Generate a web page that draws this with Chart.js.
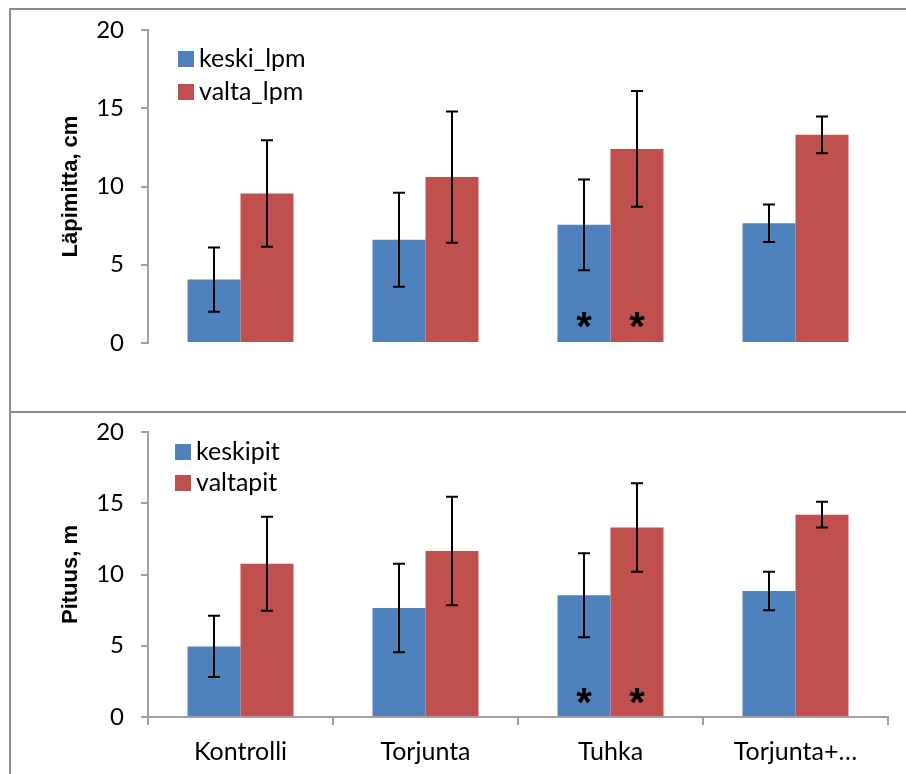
<!DOCTYPE html>
<html>
<head>
<meta charset="utf-8">
<script src="https://cdn.jsdelivr.net/npm/chart.js@4.4.0/dist/chart.umd.min.js"></script>
<style>
  body { margin: 0; background: #fff; overflow: hidden; }
  #wrap { position: relative; width: 906px; height: 774px; }
  canvas { position: absolute; left: 0; }
  .frame { position: absolute; border: 2px solid #8c8c8c; box-sizing: border-box; }
</style>
</head>
<body>
<div id="wrap">
  <canvas id="c1" width="906" height="412" style="top:0"></canvas>
  <canvas id="c2" width="906" height="362" style="top:412px"></canvas>
  <div class="frame" style="left:9px;top:8px;width:910px;height:405px"></div>
  <div class="frame" style="left:9px;top:411px;width:910px;height:400px"></div>
</div>
<script>
// data
const categories = ['Kontrolli', 'Torjunta', 'Tuhka', 'Torjunta+…'];
const keskiLpm    = [4.05, 6.6, 7.55, 7.65];
const keskiLpmErr = [2.05, 3.0, 2.9, 1.2];
const valtaLpm    = [9.55, 10.6, 12.4, 13.3];
const valtaLpmErr = [3.4, 4.2, 3.7, 1.17];
const keskipit    = [4.95, 7.65, 8.55, 8.85];
const keskipitErr = [2.15, 3.1, 2.95, 1.35];
const valtapit    = [10.75, 11.65, 13.3, 14.2];
const valtapitErr = [3.3, 3.8, 3.1, 0.9];
const yTicks = [0, 5, 10, 15, 20];
const starCategory = 'Tuhka';   // merkitsevä ero
const starLevel = 1.45;

const BLUE = '#4f81bd';
const RED = '#c0504d';
const AXIS = '#a0a0a0';
const LABEL_FONT = 'Lato';

// error bars from dataset.err
const errorBars = {
  id: 'errorBars',
  afterDatasetsDraw(chart) {
    const ctx = chart.ctx;
    const ys = chart.scales.y;
    ctx.save();
    ctx.strokeStyle = '#000';
    ctx.lineWidth = 2;
    chart.data.datasets.forEach((ds, i) => {
      const meta = chart.getDatasetMeta(i);
      meta.data.forEach((bar, j) => {
        const hi = ys.getPixelForValue(ds.data[j] + ds.err[j]);
        const lo = ys.getPixelForValue(ds.data[j] - ds.err[j]);
        const x = Math.round(bar.x);
        ctx.beginPath();
        ctx.moveTo(x, hi); ctx.lineTo(x, lo);
        ctx.moveTo(x - 6, hi); ctx.lineTo(x + 6, hi);
        ctx.moveTo(x - 6, lo); ctx.lineTo(x + 6, lo);
        ctx.stroke();
      });
    });
    ctx.restore();
  }
};

// asterisks on the Tuhka bars
const stars = {
  id: 'stars',
  afterDatasetsDraw(chart) {
    const ctx = chart.ctx;
    const idx = chart.data.labels.indexOf(starCategory);
    const y = chart.scales.y.getPixelForValue(starLevel);
    ctx.save();
    ctx.fillStyle = '#000';
    ctx.font = 'bold 40px "Liberation Sans"';
    ctx.textAlign = 'center';
    ctx.textBaseline = 'alphabetic';
    const m = ctx.measureText('*');
    const off = (m.actualBoundingBoxAscent - m.actualBoundingBoxDescent) / 2;
    chart.data.datasets.forEach((ds, i) => {
      const bar = chart.getDatasetMeta(i).data[idx];
      ctx.fillText('*', bar.x, y + off);
    });
    ctx.restore();
  }
};

// legend inside the plot, stacked
const boxLegend = {
  id: 'boxLegend',
  afterDraw(chart, args, opts) {
    const ctx = chart.ctx;
    ctx.save();
    ctx.font = '25px ' + LABEL_FONT;
    ctx.textBaseline = 'middle';
    ctx.textAlign = 'left';
    chart.data.datasets.forEach((ds, i) => {
      const y = opts.y + i * opts.gap;
      ctx.fillStyle = ds.backgroundColor;
      ctx.fillRect(opts.x, y, 16, 16);
      ctx.fillStyle = '#000';
      ctx.fillText(ds.label, opts.x + 21, y + 8);
    });
    ctx.restore();
  }
};

function yAxis(title) {
  return {
    min: 0, max: 20,
    afterBuildTicks: s => { s.ticks = yTicks.map(v => ({ value: v })); },
    ticks: { font: { family: LABEL_FONT, size: 24 }, color: '#000', padding: 17 },
    grid: { drawOnChartArea: false, drawTicks: true, tickLength: 7, color: AXIS, lineWidth: 2 },
    border: { color: AXIS, width: 2 },
    title: {
      display: true, text: title, color: '#000',
      font: { family: 'Liberation Sans', weight: 'bold', size: 22 },
      padding: { top: 58, bottom: 0 }
    },
    afterFit: s => { s.width = 148; s.paddingTop = 0; s.paddingBottom = 0; }
  };
}

function makeChart(id, names, vals, errs, title, showX, pad, legend) {
  return new Chart(document.getElementById(id), {
    type: 'bar',
    data: {
      labels: categories,
      datasets: [
        { label: names[0], data: vals[0], err: errs[0], backgroundColor: BLUE },
        { label: names[1], data: vals[1], err: errs[1], backgroundColor: RED }
      ]
    },
    options: {
      responsive: false,
      animation: false,
      events: [],
      layout: { padding: pad },
      categoryPercentage: 0.573,
      barPercentage: 1.0,
      plugins: {
        legend: { display: false },
        tooltip: { enabled: false },
        boxLegend: legend
      },
      scales: {
        x: showX ? {
          ticks: { font: { family: LABEL_FONT, size: 25 }, color: '#000', padding: 12, maxRotation: 0 },
          grid: { drawOnChartArea: false, tickLength: 8, color: AXIS, lineWidth: 2, offset: true },
          border: { color: AXIS, width: 2 },
          afterFit: s => { s.height = 57; }
        } : { display: false },
        y: yAxis(title)
      }
    },
    plugins: [errorBars, stars, boxLegend]
  });
}

makeChart('c1', ['keski_lpm', 'valta_lpm'], [keskiLpm, valtaLpm], [keskiLpmErr, valtaLpmErr],
  'Läpimitta, cm', false, { left: 0, right: 18, top: 30, bottom: 69 }, { x: 178, y: 51, gap: 33 });
makeChart('c2', ['keskipit', 'valtapit'], [keskipit, valtapit], [keskipitErr, valtapitErr],
  'Pituus, m', true, { left: 0, right: 18, top: 20, bottom: 0 }, { x: 175, y: 32, gap: 31 });
</script>
</body>
</html>
